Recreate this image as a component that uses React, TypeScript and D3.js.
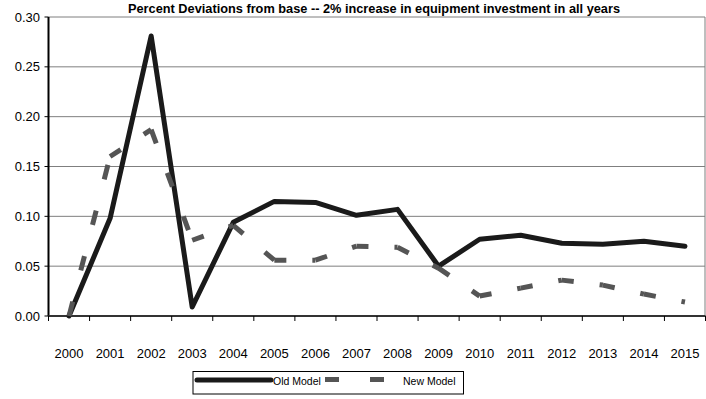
import React from "react";
import * as d3 from "d3";

const years = ["2000","2001","2002","2003","2004","2005","2006","2007","2008","2009","2010","2011","2012","2013","2014","2015"];
const oldModel = [0.0, 0.098, 0.281, 0.009, 0.094, 0.115, 0.114, 0.101, 0.107, 0.050, 0.077, 0.081, 0.073, 0.072, 0.075, 0.070];
const newModel = [0.0, 0.160, 0.187, 0.076, 0.091, 0.056, 0.056, 0.070, 0.069, 0.048, 0.020, 0.028, 0.036, 0.031, 0.022, 0.014];
const yTicks = [0, 0.05, 0.1, 0.15, 0.2, 0.25, 0.3];
const title = "Percent Deviations from base -- 2% increase in equipment investment in all years";
const seriesNames = ["Old Model", "New Model"];

const W = 706, H = 399;
const left = 48.5, right = 705.5, top = 17, bottom = 316;
const FONT = "'Liberation Sans', Arial, sans-serif";

export default function App() {
  const x = d3.scaleBand<string>().domain(years).range([left, right]).paddingInner(0).paddingOuter(0);
  const cx = (i: number) => (x(years[i]) as number) + x.bandwidth() / 2;
  const y = d3.scaleLinear().domain([0, 0.3]).range([bottom, top]);

  const oldLine = d3.line<number>().x((_, i) => cx(i)).y((d) => y(d))(oldModel) as string;

  const newPts = newModel.map((v, i) => [cx(i), y(v)] as [number, number]);
  const segs = newPts.slice(1).map((p1, i) => {
    const p0 = newPts[i];
    const dx = p1[0] - p0[0], dy = p1[1] - p0[1];
    const L = Math.hypot(dx, dy);
    const Lp = Math.hypot(dx, dy / 1.26);
    const k = L / Lp;
    return { d: `M${p0[0]},${p0[1]}L${p1[0]},${p1[1]}`, dash: `${12 * k} ${26 * k}` };
  });

  const boundaries = years.map((yr) => x(yr) as number).concat([right]);

  return (
    <svg width={W} height={H} style={{ position: "absolute", left: 0, top: 0, background: "#fff" }} fontFamily={FONT}>
      <rect x={0} y={0} width={W} height={H} fill="#fff" />
      <text x={374} y={13} textAnchor="middle" fontSize={12.3} fontWeight="bold" fill="#000" textLength={492} lengthAdjust="spacingAndGlyphs">{title}</text>
      {/* gridlines */}
      {yTicks.filter((t) => t > 0).map((t) => (
        <line key={t} x1={left} x2={right - 0.5} y1={y(t)} y2={y(t)} stroke="#7f7f7f" strokeWidth={1} />
      ))}
      <line x1={right - 0.5} x2={right - 0.5} y1={top} y2={bottom} stroke="#7f7f7f" strokeWidth={1} />
      {/* y axis */}
      <line x1={left} x2={left} y1={top} y2={bottom} stroke="#000" strokeWidth={2} />
      {yTicks.map((t) => (
        <g key={t}>
          <line x1={left - 4} x2={left} y1={y(t)} y2={y(t)} stroke="#000" strokeWidth={1} />
          <text x={40} y={y(t)} dy="0.35em" textAnchor="end" fontSize={13} fill="#000">{t.toFixed(2)}</text>
        </g>
      ))}
      {/* x axis */}
      <line x1={left} x2={right} y1={bottom} y2={bottom} stroke="#333" strokeWidth={2} />
      {boundaries.map((b, i) => (
        <line key={i} x1={b} x2={b} y1={bottom} y2={bottom + 5} stroke="#000" strokeWidth={1} />
      ))}
      {years.map((yr, i) => (
        <text key={yr} x={cx(i)} y={358} textAnchor="middle" fontSize={13} fill="#000">{yr}</text>
      ))}
      {/* series */}
      <path d={oldLine} fill="none" stroke="#1a1a1a" strokeWidth={5} strokeLinejoin="round" strokeLinecap="round" />
      {segs.map((s, i) => (
        <path key={i} d={s.d} fill="none" stroke="#555555" strokeWidth={5} strokeDasharray={s.dash} strokeLinecap="butt" />
      ))}
      {/* legend */}
      <rect x={193} y={371.5} width={270.5} height={22.5} fill="#fff" stroke="#000" strokeWidth={1} />
      <line x1={197} x2={271} y1={380} y2={380} stroke="#1a1a1a" strokeWidth={5} strokeLinecap="round" />
      <text x={273} y={385} fontSize={10.5} fill="#000">{seriesNames[0]}</text>
      <line x1={325} x2={385} y1={379.5} y2={379.5} stroke="#555555" strokeWidth={5} strokeDasharray="14 31" />
      <text x={403} y={385} fontSize={10.5} fill="#000">{seriesNames[1]}</text>
    </svg>
  );
}
